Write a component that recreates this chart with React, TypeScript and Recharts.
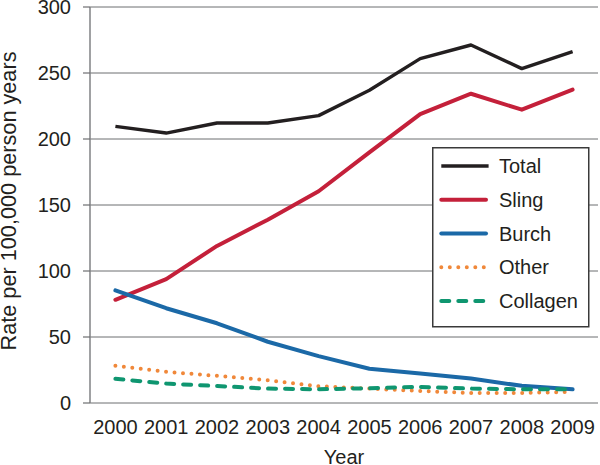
import React from 'react';
import { LineChart, Line, XAxis, YAxis, CartesianGrid, Legend, Label } from 'recharts';

const years = ['2000', '2001', '2002', '2003', '2004', '2005', '2006', '2007', '2008', '2009'];
const total = [209.6, 204.5, 212.1, 212.1, 217.7, 236.9, 260.9, 271.2, 253.3, 266.2];
const sling = [78.2, 93.9, 119.0, 138.9, 160.4, 189.9, 218.9, 234.3, 222.2, 237.4];
const burch = [85.3, 71.8, 60.4, 46.4, 35.5, 25.9, 22.3, 18.5, 13.0, 10.4];
const other = [28.2, 23.6, 20.6, 17.3, 12.7, 10.9, 9.1, 7.6, 7.6, 8.4];
const collagen = [18.3, 14.7, 12.9, 10.9, 10.4, 11.2, 12.2, 10.9, 10.4, 10.4];
const yTicks = [0, 50, 100, 150, 200, 250, 300];

const data = years.map((year, i) => ({
  i,
  year,
  total: total[i],
  sling: sling[i],
  burch: burch[i],
  other: other[i],
  collagen: collagen[i],
}));

const labelTicks = years.map((_, i) => i);
const boundaryTicks = [...years.map((_, i) => i - 0.5), years.length - 0.5];

const FONT = '"Liberation Sans", Arial, Helvetica, sans-serif';
const TEXT = '#231f20';

const seriesStyles = [
  { key: 'total', name: 'Total', color: '#231f20', width: 3.4, dash: undefined, cap: 'butt' },
  { key: 'sling', name: 'Sling', color: '#c4203a', width: 4, dash: undefined, cap: 'round' },
  { key: 'burch', name: 'Burch', color: '#1b69a7', width: 4, dash: undefined, cap: 'round' },
  { key: 'other', name: 'Other', color: '#f0883a', width: 4, dash: '0 8.5', cap: 'round' },
  { key: 'collagen', name: 'Collagen', color: '#0f9670', width: 4, dash: '8 9', cap: 'round' },
];

const LegendBox = () => (
  <svg width={158} height={181} style={{ display: 'block' }}>
    <rect x={0.75} y={0.75} width={156} height={179} fill="#ffffff" stroke="#3a3a3a" strokeWidth={1.5} />
    {seriesStyles.map((s, i) => {
      const cy = 19 + i * 33.75;
      return (
        <g key={s.key}>
          <line
            x1={9.3}
            x2={s.cap === 'butt' ? 56.6 : 54}
            y1={cy}
            y2={cy}
            stroke={s.color}
            strokeWidth={s.width}
            strokeDasharray={s.dash}
            strokeLinecap={s.cap as any}
          />
          <text x={67} y={cy} dy="0.36em" fontSize={20} fontFamily={FONT} fill={TEXT}>
            {s.name}
          </text>
        </g>
      );
    })}
  </svg>
);

export default function App() {
  return (
    <div style={{ position: 'absolute', left: 0, top: 0, width: 600, height: 465, background: '#fff' }}>
      <LineChart
        width={600}
        height={465}
        data={data}
        margin={{ top: 7, right: 2, left: 0, bottom: 0 }}
        style={{ fontFamily: FONT }}
      >
        <CartesianGrid horizontal vertical={false} stroke="#6d6e71" strokeWidth={1} />
        <XAxis
          xAxisId={0}
          type="number"
          dataKey="i"
          domain={[-0.5, 9.5]}
          ticks={boundaryTicks}
          interval={0}
          height={0}
          tick={false}
          tickLine={{ stroke: '#6d6e71', strokeWidth: 1.2 }}
          tickSize={5}
          axisLine={{ stroke: '#808285', strokeWidth: 1.5 }}
        />
        <XAxis
          xAxisId="labels"
          type="number"
          dataKey="i"
          domain={[-0.5, 9.5]}
          ticks={labelTicks}
          interval={0}
          height={62}
          tickFormatter={(v: number) => years[v]}
          tick={{ fontSize: 20, fill: TEXT, fontFamily: FONT }}
          tickLine={false}
          axisLine={false}
          tickSize={5}
          tickMargin={12}
        >
          <Label value="Year" position="insideBottom" offset={1} style={{ fontSize: 20, fill: TEXT, fontFamily: FONT }} />
        </XAxis>
        <YAxis
          type="number"
          domain={[0, 300]}
          ticks={yTicks}
          interval={0}
          width={90}
          tick={{ fontSize: 20, fill: TEXT, fontFamily: FONT }}
          tickLine={{ stroke: '#6d6e71', strokeWidth: 1.2 }}
          tickSize={7}
          tickMargin={12}
          axisLine={{ stroke: '#808285', strokeWidth: 1.5 }}
        >
          <Label
            content={({ viewBox }: any) => {
              const cy = viewBox.y + viewBox.height / 2 - 4;
              return (
                <text
                  x={16}
                  y={cy}
                  transform={`rotate(-90, 16, ${cy})`}
                  textAnchor="middle"
                  fontSize={21.7}
                  fontFamily={FONT}
                  fill={TEXT}
                >
                  Rate per 100,000 person years
                </text>
              );
            }}
          />
        </YAxis>
        <Legend
          layout="vertical"
          align="center"
          verticalAlign="middle"
          content={() => <LegendBox />}
          wrapperStyle={{ position: 'absolute', left: 432, top: 147, width: 158, height: 181 }}
        />
        {seriesStyles.map((s) => (
          <Line
            key={s.key}
            type="linear"
            dataKey={s.key}
            name={s.name}
            stroke={s.color}
            strokeWidth={s.width}
            strokeDasharray={s.dash}
            strokeLinecap={s.cap === 'butt' ? 'butt' : 'round'}
            strokeLinejoin="round"
            dot={false}
            activeDot={false}
            isAnimationActive={false}
          />
        ))}
      </LineChart>
    </div>
  );
}
